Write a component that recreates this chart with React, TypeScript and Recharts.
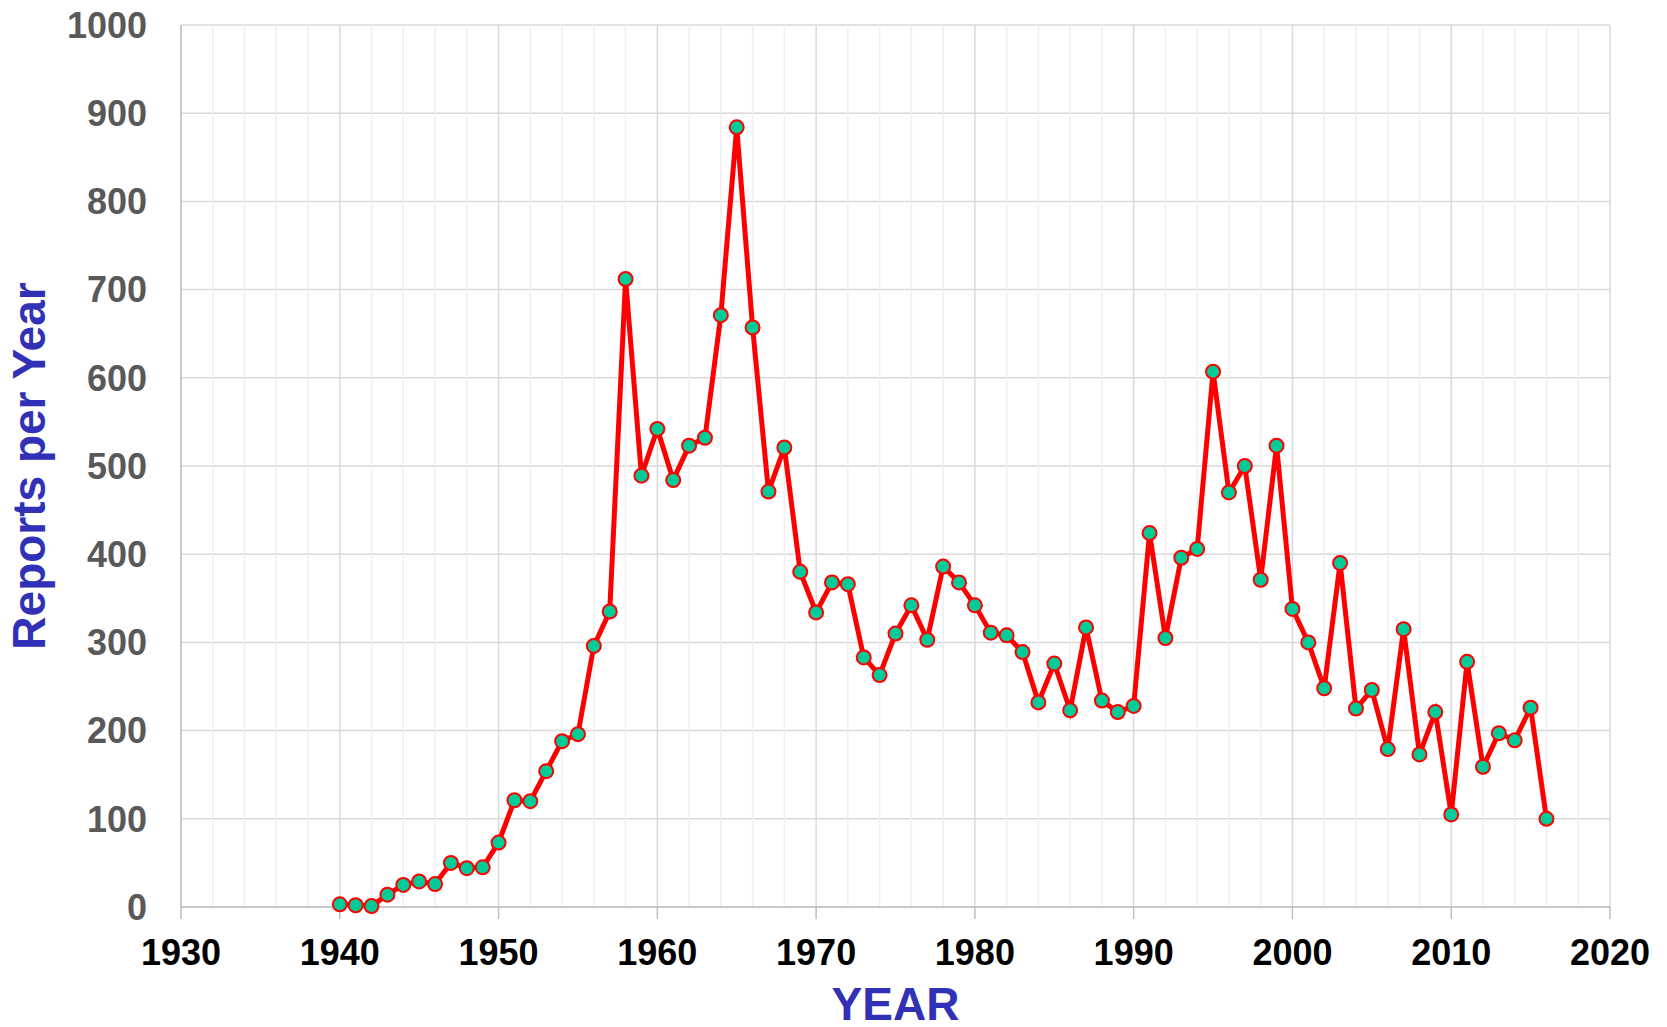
import { LineChart, Line, XAxis, YAxis, CartesianGrid, ReferenceLine, Label } from "recharts";

const YEARS = [
  1940, 1941, 1942, 1943, 1944, 1945, 1946, 1947, 1948, 1949,
  1950, 1951, 1952, 1953, 1954, 1955, 1956, 1957, 1958, 1959,
  1960, 1961, 1962, 1963, 1964, 1965, 1966, 1967, 1968, 1969,
  1970, 1971, 1972, 1973, 1974, 1975, 1976, 1977, 1978, 1979,
  1980, 1981, 1982, 1983, 1984, 1985, 1986, 1987, 1988, 1989,
  1990, 1991, 1992, 1993, 1994, 1995, 1996, 1997, 1998, 1999,
  2000, 2001, 2002, 2003, 2004, 2005, 2006, 2007, 2008, 2009,
  2010, 2011, 2012, 2013, 2014, 2015, 2016,
];

const REPORTS = [
  3, 2, 1, 14, 25, 29, 26, 50, 44, 45,
  73, 121, 120, 154, 188, 196, 296, 335, 712, 489,
  542, 484, 523, 532, 671, 884, 657, 471, 521, 380,
  334, 368, 366, 283, 263, 310, 342, 303, 386, 368,
  342, 311, 308, 289, 232, 276, 223, 317, 234, 221,
  228, 424, 305, 396, 406, 607, 470, 500, 371, 523,
  338, 300, 248, 390, 225, 246, 179, 315, 173, 221,
  105, 278, 159, 197, 189, 226, 100,
];

const X_TICKS = [1930, 1940, 1950, 1960, 1970, 1980, 1990, 2000, 2010, 2020];
const Y_TICKS = [0, 100, 200, 300, 400, 500, 600, 700, 800, 900, 1000];
// minor vertical grid every 2 years (between the decade lines)
const MINOR_YEARS = [
  1932, 1934, 1936, 1938, 1942, 1944, 1946, 1948, 1952, 1954, 1956, 1958,
  1962, 1964, 1966, 1968, 1972, 1974, 1976, 1978, 1982, 1984, 1986, 1988,
  1992, 1994, 1996, 1998, 2002, 2004, 2006, 2008, 2012, 2014, 2016, 2018,
];

const data = YEARS.map((year, i) => ({ year, reports: REPORTS[i] }));

const FONT = "'Liberation Sans', Arial, sans-serif";

export default function App() {
  return (
    <div style={{ position: "absolute", left: 0, top: 0, fontFamily: FONT }}>
      <LineChart
        width={1667}
        height={1027}
        data={data}
        margin={{ top: 25, right: 57, bottom: 0, left: 0 }}
      >
        {MINOR_YEARS.map((y) => (
          <ReferenceLine key={y} x={y} stroke="#efefef" strokeWidth={1.5} ifOverflow="hidden" />
        ))}
        <CartesianGrid stroke="#d9d9d9" strokeWidth={1.5} />
        <XAxis
          dataKey="year"
          type="number"
          domain={[1930, 2020]}
          ticks={X_TICKS}
          interval={0}
          height={120}
          stroke="#bfbfbf"
          strokeWidth={1.5}
          tickSize={12}
          tickMargin={20}
          tick={{ fill: "#000", fontSize: 36, fontWeight: 700, fontFamily: FONT }}
        >
          <Label
            value="YEAR"
            position="insideBottom"
            offset={7}
            style={{ fill: "#3131b8", fontSize: 46, fontWeight: 700, fontFamily: FONT }}
          />
        </XAxis>
        <YAxis
          type="number"
          domain={[0, 1000]}
          ticks={Y_TICKS}
          interval={0}
          width={181}
          stroke="#bfbfbf"
          strokeWidth={1.5}
          tickLine={false}
          tickSize={0}
          tickMargin={34}
          tick={{ fill: "#595959", fontSize: 36, fontWeight: 700, fontFamily: FONT }}
        >
          <Label
            value="Reports per Year"
            angle={-90}
            position="insideLeft"
            offset={29}
            style={{ fill: "#3131b8", fontSize: 46, fontWeight: 700, fontFamily: FONT, textAnchor: "middle" }}
          />
        </YAxis>
        <Line
          type="linear"
          dataKey="reports"
          stroke="#ff0000"
          strokeWidth={5}
          dot={{ r: 7, fill: "#00cc99", stroke: "#ff0000", strokeWidth: 2 }}
          isAnimationActive={false}
        />
      </LineChart>
    </div>
  );
}
